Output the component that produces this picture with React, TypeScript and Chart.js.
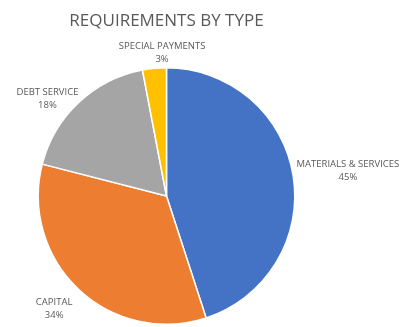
import React, { useEffect, useRef } from "react";
import { Chart, registerables } from "chart.js";

Chart.register(...registerables);

const titleText = "REQUIREMENTS BY TYPE";
const categories = ["MATERIALS & SERVICES", "CAPITAL", "DEBT SERVICE", "SPECIAL PAYMENTS"];
const values = [45, 34, 18, 3];
const colors = ["#4472C4", "#ED7D31", "#A5A5A5", "#FFC000"];

// small layout nudges for the outside labels (pixels)
const labelNudges: [number, number][] = [
  [1, -3],
  [-10, 8],
  [-8, 7],
  [12, -1],
];

const FONT = "'Open Sans', 'Noto Sans', sans-serif";
const TEXT_COLOR = "#595959";

const labelPlugin = {
  id: "outsideLabels",
  afterDraw(chart: any) {
    const ctx = chart.ctx;
    const meta = chart.getDatasetMeta(0);
    const total = values.reduce((a, b) => a + b, 0);
    ctx.save();
    ctx.fillStyle = TEXT_COLOR;
    ctx.textAlign = "center";
    ctx.textBaseline = "middle";
    let cx = 0;
    meta.data.forEach((arc: any, i: number) => {
      const p = arc.getProps(["x", "y", "startAngle", "endAngle", "outerRadius"], true);
      cx = p.x;
      const mid = (p.startAngle + p.endAngle) / 2;
      const dx = Math.cos(mid);
      const dy = Math.sin(mid);
      ctx.font = `9.5px ${FONT}`;
      const line1 = categories[i];
      const line2 = Math.round((values[i] / total) * 100) + "%";
      const hw = Math.max(ctx.measureText(line1).width, ctx.measureText(line2).width) / 2;
      const hh = 12;
      const gap = 3;
      const lx = p.x + dx * (p.outerRadius + gap) + dx * hw + labelNudges[i][0];
      const ly = p.y + dy * (p.outerRadius + gap) + dy * hh + labelNudges[i][1];
      ctx.fillText(line1, lx, ly - 6.5);
      ctx.fillText(line2, lx, ly + 6.5);
    });
    ctx.font = `17px ${FONT}`;
    ctx.fillText(titleText, cx, 21);
    ctx.restore();
  },
};

export default function App() {
  const ref = useRef<HTMLCanvasElement | null>(null);
  useEffect(() => {
    document.body.style.margin = "0";
    const canvas = ref.current!;
    const chart = new Chart(canvas, {
      type: "pie",
      data: {
        labels: categories,
        datasets: [
          {
            data: values,
            backgroundColor: colors,
            borderColor: "#ffffff",
            borderWidth: 1.5,
            hoverOffset: 0,
          },
        ],
      },
      options: {
        responsive: false,
        animation: false,
        layout: { padding: { top: 67, bottom: 2, left: 37, right: 115 } },
        plugins: {
          legend: { display: false },
          tooltip: { enabled: false },
        },
      },
      plugins: [labelPlugin],
    });
    return () => chart.destroy();
  }, []);
  return (
    <div style={{ width: 411, height: 327, background: "#ffffff" }}>
      <canvas ref={ref} width={411} height={327} style={{ display: "block" }} />
    </div>
  );
}
